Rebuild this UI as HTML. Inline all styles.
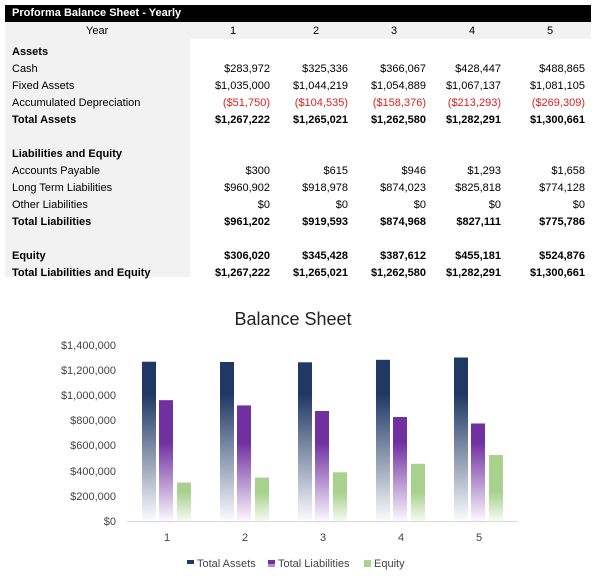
<!DOCTYPE html>
<html><head><meta charset="utf-8"><style>
body{margin:0;width:602px;height:577px;background:#fff;position:relative;overflow:hidden;font-family:"Liberation Sans",Arial,sans-serif;font-size:11px;color:#000}
.a{position:absolute;white-space:nowrap}
.r{text-align:right;width:90px}
.b{font-weight:bold}
.red{color:#e02020}
</style></head><body>
<div class="a" style="left:5px;top:5px;width:586px;height:17px;background:#000"></div>
<div class="a b" style="left:12px;top:7px;color:#fff;font-size:11px">Proforma Balance Sheet - Yearly</div>
<div class="a" style="left:5px;top:22px;width:586px;height:17px;background:#f2f2f2"></div>
<div class="a" style="left:5px;top:39px;width:185px;height:238px;background:#f2f2f2"></div>
<div class="a" style="left:86px;top:25px">Year</div>
<div class="a" style="left:230px;top:25px">1</div>
<div class="a" style="left:313px;top:25px">2</div>
<div class="a" style="left:391px;top:25px">3</div>
<div class="a" style="left:469px;top:25px">4</div>
<div class="a" style="left:547px;top:25px">5</div>
<div id="t"></div>
<script>
var rows=[
[46,'Assets',1,null],
[63,'Cash',0,['$283,972','$325,336','$366,067','$428,447','$488,865']],
[80,'Fixed Assets',0,['$1,035,000','$1,044,219','$1,054,889','$1,067,137','$1,081,105']],
[97,'Accumulated Depreciation',2,['($51,750)','($104,535)','($158,376)','($213,293)','($269,309)']],
[114,'Total Assets',1,['$1,267,222','$1,265,021','$1,262,580','$1,282,291','$1,300,661']],
[148,'Liabilities and Equity',1,null],
[165,'Accounts Payable',0,['$300','$615','$946','$1,293','$1,658']],
[182,'Long Term Liabilities',0,['$960,902','$918,978','$874,023','$825,818','$774,128']],
[199,'Other Liabilities',0,['$0','$0','$0','$0','$0']],
[216,'Total Liabilities',1,['$961,202','$919,593','$874,968','$827,111','$775,786']],
[250,'Equity',1,['$306,020','$345,428','$387,612','$455,181','$524,876']],
[267,'Total Liabilities and Equity',1,['$1,267,222','$1,265,021','$1,262,580','$1,282,291','$1,300,661']]];
var ends=[270,348,426,501,585],h='';
rows.forEach(function(r){
 h+='<div class="a'+(r[2]==1?' b':'')+'" style="left:12px;top:'+r[0]+'px">'+r[1]+'</div>';
 if(r[3])r[3].forEach(function(v,i){h+='<div class="a r'+(r[2]==1?' b':'')+(r[2]==2?' red':'')+'" style="left:'+(ends[i]-90)+'px;top:'+r[0]+'px">'+v+'</div>';});
});
document.getElementById('t').innerHTML=h;
</script>
<svg class="a" style="left:0;top:0" width="602" height="577" font-family="Liberation Sans, Arial, sans-serif">
<defs>
<linearGradient id="ga" gradientUnits="userSpaceOnUse" x1="0" y1="340" x2="0" y2="521"><stop offset="0" stop-color="#203864"/><stop offset="0.3" stop-color="#203864"/><stop offset="1" stop-color="#fbfcfe"/></linearGradient>
<linearGradient id="gl" gradientUnits="userSpaceOnUse" x1="0" y1="400" x2="0" y2="521"><stop offset="0" stop-color="#7030a0"/><stop offset="0.35" stop-color="#7030a0"/><stop offset="1" stop-color="#fbf8fe"/></linearGradient>
<linearGradient id="ge" gradientUnits="userSpaceOnUse" x1="0" y1="480" x2="0" y2="521"><stop offset="0" stop-color="#a9d18e"/><stop offset="0.3" stop-color="#a9d18e"/><stop offset="1" stop-color="#f6fbf3"/></linearGradient>
</defs>
<text x="293" y="325" font-size="18" text-anchor="middle" fill="#222">Balance Sheet</text>
<g font-size="11" fill="#444" text-anchor="end">
<text x="116" y="349">$1,400,000</text><text x="116" y="374">$1,200,000</text><text x="116" y="399">$1,000,000</text>
<text x="116" y="424">$800,000</text><text x="116" y="449">$600,000</text><text x="116" y="475">$400,000</text>
<text x="116" y="500">$200,000</text><text x="116" y="525">$0</text></g>
<line x1="127" y1="521.5" x2="518" y2="521.5" stroke="#d9d9d9"/>
<g id="bars"></g>
<g font-size="11" fill="#444" text-anchor="middle">
<text x="167" y="541">1</text><text x="245" y="541">2</text><text x="323" y="541">3</text><text x="401" y="541">4</text><text x="479" y="541">5</text></g>
<g font-size="11" fill="#444">
<rect x="187" y="560" width="7" height="7" fill="url(#ga)"/><rect x="187" y="560" width="7" height="4" fill="#203864"/><text x="197" y="567">Total Assets</text>
<rect x="268" y="560" width="7" height="7" fill="#b48ad0"/><rect x="268" y="560" width="7" height="4" fill="#7030a0"/><text x="278" y="567">Total Liabilities</text>
<rect x="364" y="560" width="7" height="7" fill="#a9d18e"/><text x="374" y="567">Equity</text></g>
</svg>
<script>
var A=[1267222,1265021,1262580,1282291,1300661],L=[961202,919593,874968,827111,775786],E=[306020,345428,387612,455181,524876];
var s='',k=25.14/200000;
for(var i=0;i<5;i++){var g=167+78*i;
[[A,-25,'ga'],[L,-8,'gl'],[E,10,'ge']].forEach(function(q){var hh=q[0][i]*k;s+='<rect x="'+(g+q[1])+'" y="'+(521-hh)+'" width="14" height="'+hh+'" fill="url(#'+q[2]+')"/>';});}
document.getElementById('bars').innerHTML=s;
</script>
</body></html>
